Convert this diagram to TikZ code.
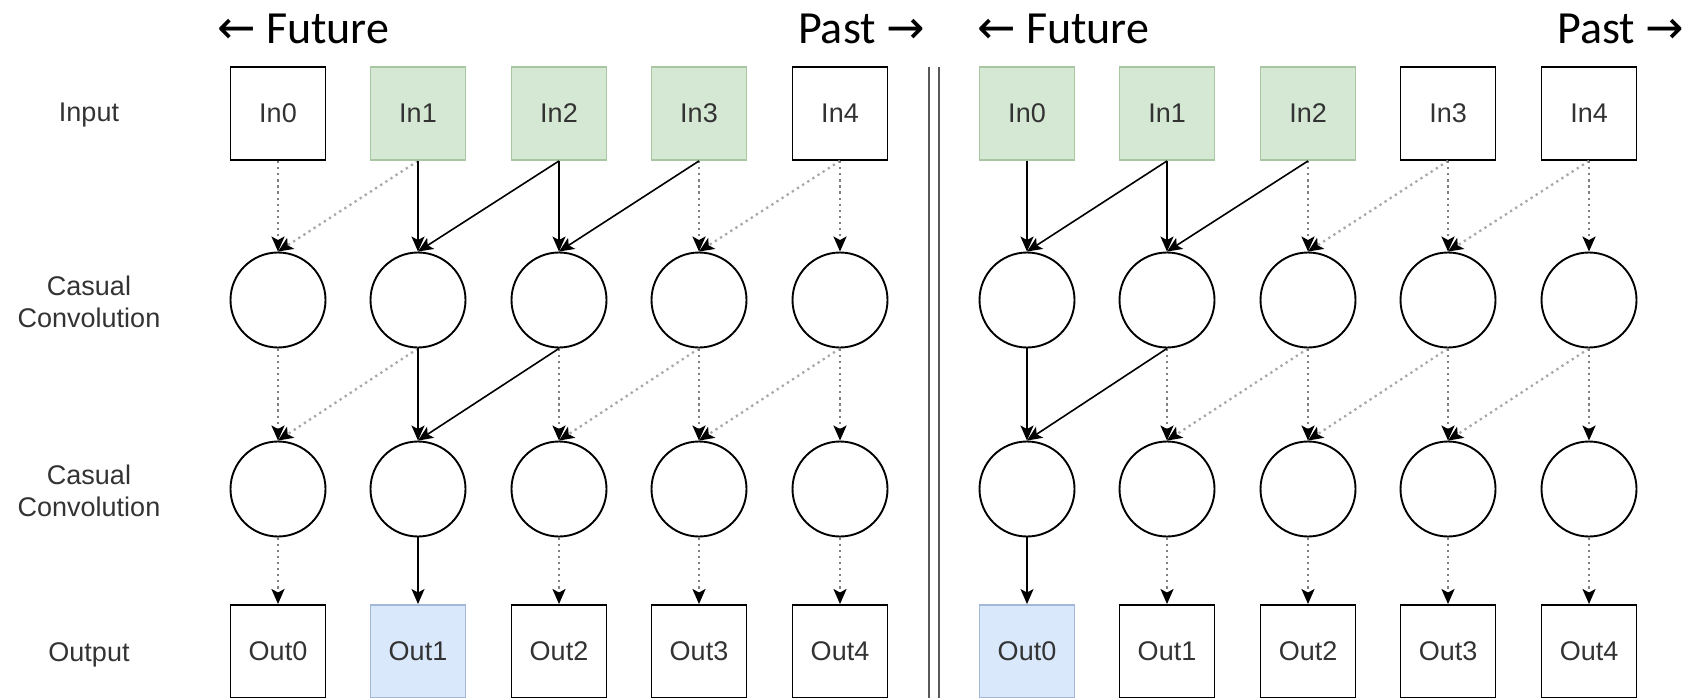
\documentclass[tikz,border=0pt]{standalone}
\usepackage{fontspec}
\setmainfont{Liberation Sans}
\newfontfamily\titlefont{Carlito}
\newfontfamily\arrowfont{DejaVu Sans}
\usetikzlibrary{arrows.meta}
\definecolor{gfill}{HTML}{D5E8D4}
\definecolor{gline}{HTML}{A9C6A2}
\definecolor{bfill}{HTML}{DAE8FC}
\definecolor{bline}{HTML}{A3B8D8}
\definecolor{txt}{HTML}{333333}
\definecolor{dotv}{HTML}{808080}
\definecolor{dotd}{HTML}{A8A8A8}
\begin{document}
\begin{tikzpicture}[x=1pt,y=-1pt,
  box/.style={draw=black, line width=1.9pt, minimum width=95pt, minimum height=93pt, inner sep=0pt, font=\fontsize{27}{30}\selectfont, text=txt},
  gbox/.style={box, fill=gfill, draw=gline},
  bbox/.style={box, fill=bfill, draw=bline},
  circ/.style={circle, draw=black, line width=1.9pt, minimum size=95pt, inner sep=0pt},
  solidarr/.style={draw=black, line width=1.6pt, -{Stealth[length=15pt,width=13pt,inset=3.5pt]}},
  dotarr/.style={draw=dotv, line width=2.3pt, dash pattern=on 2.3pt off 3.8pt, -{Stealth[length=15pt,width=13pt,inset=3.5pt,color=black]}},
  dotdiag/.style={dotarr, draw=dotd},
  rowlabel/.style={font=\fontsize{27}{32}\selectfont, text=txt, align=center},
  title/.style={font=\titlefont\fontsize{46}{50}\selectfont, inner sep=0pt},
  sepline/.style={draw=black!65, line width=2.5pt},
]
\useasboundingbox (0,0) rectangle (1688,698);

% titles
\node[title, anchor=base west] (tf1) at (217,44) {{\arrowfont ←} Future};
\node[title, anchor=base east] (tp1) at (925,44) {Past {\arrowfont →}};
\node[title, anchor=base west] (tf2) at (977,44) {{\arrowfont ←} Future};
\node[title, anchor=base east] (tp2) at (1684,44) {Past {\arrowfont →}};

% row labels
\node[rowlabel] (lin) at (89,115) {Input};
\node[rowlabel] (lc1) at (89,302) {Casual\\Convolution};
\node[rowlabel] (lc2) at (89,491) {Casual\\Convolution};
\node[rowlabel] (lout) at (89,655) {Output};

% separator
\coordinate (s1t) at (929,67); \coordinate (s1b) at (929,698);
\coordinate (s2t) at (939,67); \coordinate (s2b) at (939,698);
\draw[sepline] (s1t) -- (s1b);
\draw[sepline] (s2t) -- (s2b);

\begin{scope}
\clip (0,0) rectangle (1638,698);
% left diagram
\foreach \i/\x in {0/278,1/418,2/559,3/699,4/840} {
  \node[circ] (Lc1\i) at (\x,300) {};
  \node[circ] (Lc2\i) at (\x,489) {};
}
\node[box]  (Lin0) at (278,113.5) {In0};
\node[gbox] (Lin1) at (418,113.5) {In1};
\node[gbox] (Lin2) at (559,113.5) {In2};
\node[gbox] (Lin3) at (699,113.5) {In3};
\node[box]  (Lin4) at (840,113.5) {In4};
\node[box]  (Lout0) at (278,651.5) {Out0};
\node[bbox] (Lout1) at (418,651.5) {Out1};
\node[box]  (Lout2) at (559,651.5) {Out2};
\node[box]  (Lout3) at (699,651.5) {Out3};
\node[box]  (Lout4) at (840,651.5) {Out4};

% right diagram
\foreach \i/\x in {0/1027,1/1167,2/1308,3/1448,4/1589} {
  \node[circ] (Rc1\i) at (\x,300) {};
  \node[circ] (Rc2\i) at (\x,489) {};
}
\node[gbox] (Rin0) at (1027,113.5) {In0};
\node[gbox] (Rin1) at (1167,113.5) {In1};
\node[gbox] (Rin2) at (1308,113.5) {In2};
\node[box]  (Rin3) at (1448,113.5) {In3};
\node[box]  (Rin4) at (1589,113.5) {In4};
\node[bbox] (Rout0) at (1027,651.5) {Out0};
\node[box]  (Rout1) at (1167,651.5) {Out1};
\node[box]  (Rout2) at (1308,651.5) {Out2};
\node[box]  (Rout3) at (1448,651.5) {Out3};
\node[box]  (Rout4) at (1589,651.5) {Out4};

% left dotted
\draw[dotdiag] (Lin1.south) -- (Lc10.north);
\draw[dotdiag] (Lin4.south) -- (Lc13.north);
\draw[dotdiag] (Lc11.south) -- (Lc20.north);
\draw[dotdiag] (Lc13.south) -- (Lc22.north);
\draw[dotdiag] (Lc14.south) -- (Lc23.north);
\draw[dotarr] (Lin0.south) -- (Lc10.north);
\draw[dotarr] (Lin3.south) -- (Lc13.north);
\draw[dotarr] (Lin4.south) -- (Lc14.north);
\draw[dotarr] (Lc10.south) -- (Lc20.north);
\draw[dotarr] (Lc12.south) -- (Lc22.north);
\draw[dotarr] (Lc13.south) -- (Lc23.north);
\draw[dotarr] (Lc14.south) -- (Lc24.north);
\draw[dotarr] (Lc20.south) -- (Lout0.north);
\draw[dotarr] (Lc22.south) -- (Lout2.north);
\draw[dotarr] (Lc23.south) -- (Lout3.north);
\draw[dotarr] (Lc24.south) -- (Lout4.north);
% left solid
\draw[solidarr] (Lin1.south) -- (Lc11.north);
\draw[solidarr] (Lin2.south) -- (Lc11.north);
\draw[solidarr] (Lin2.south) -- (Lc12.north);
\draw[solidarr] (Lin3.south) -- (Lc12.north);
\draw[solidarr] (Lc11.south) -- (Lc21.north);
\draw[solidarr] (Lc12.south) -- (Lc21.north);
\draw[solidarr] (Lc21.south) -- (Lout1.north);

% right dotted
\draw[dotdiag] (Rin3.south) -- (Rc12.north);
\draw[dotdiag] (Rin4.south) -- (Rc13.north);
\draw[dotdiag] (Rc12.south) -- (Rc21.north);
\draw[dotdiag] (Rc13.south) -- (Rc22.north);
\draw[dotdiag] (Rc14.south) -- (Rc23.north);
\draw[dotarr] (Rin2.south) -- (Rc12.north);
\draw[dotarr] (Rin3.south) -- (Rc13.north);
\draw[dotarr] (Rin4.south) -- (Rc14.north);
\draw[dotarr] (Rc11.south) -- (Rc21.north);
\draw[dotarr] (Rc12.south) -- (Rc22.north);
\draw[dotarr] (Rc13.south) -- (Rc23.north);
\draw[dotarr] (Rc14.south) -- (Rc24.north);
\draw[dotarr] (Rc21.south) -- (Rout1.north);
\draw[dotarr] (Rc22.south) -- (Rout2.north);
\draw[dotarr] (Rc23.south) -- (Rout3.north);
\draw[dotarr] (Rc24.south) -- (Rout4.north);
% right solid
\draw[solidarr] (Rin0.south) -- (Rc10.north);
\draw[solidarr] (Rin1.south) -- (Rc10.north);
\draw[solidarr] (Rin1.south) -- (Rc11.north);
\draw[solidarr] (Rin2.south) -- (Rc11.north);
\draw[solidarr] (Rc10.south) -- (Rc20.north);
\draw[solidarr] (Rc11.south) -- (Rc20.north);
\draw[solidarr] (Rc20.south) -- (Rout0.north);
\end{scope}
\end{tikzpicture}
\end{document}
